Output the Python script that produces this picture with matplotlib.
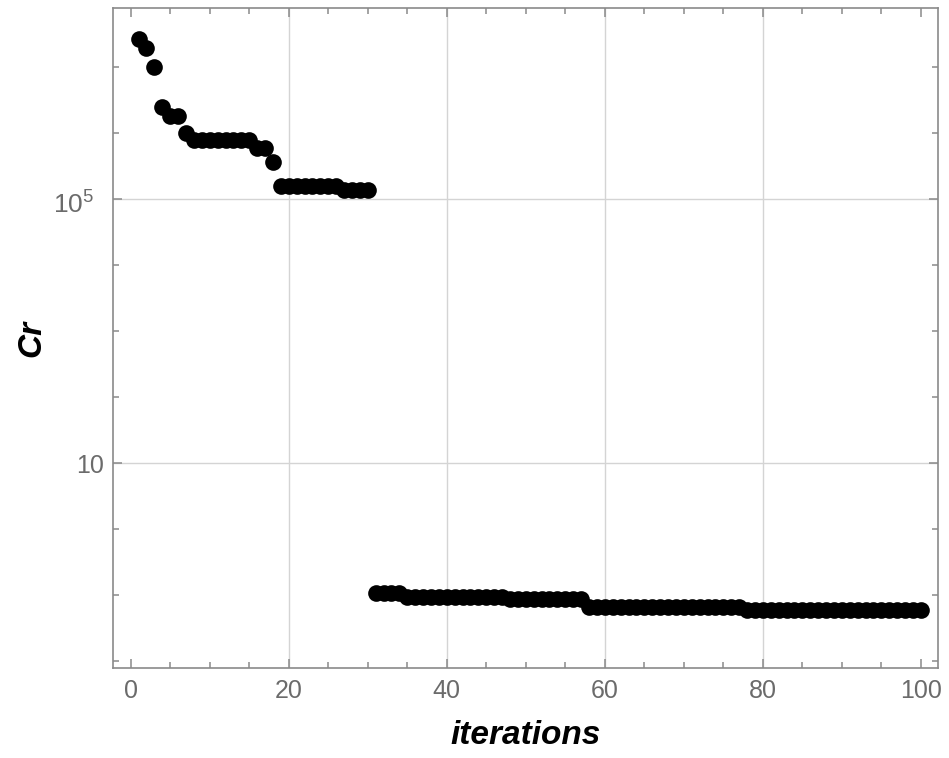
import matplotlib
matplotlib.use("Agg")
import matplotlib.pyplot as plt
from matplotlib.ticker import FixedLocator, NullFormatter
from matplotlib.transforms import ScaledTranslation

plt.rcParams['font.family'] = ['Liberation Sans', 'DejaVu Sans']
plt.rcParams['mathtext.fontset'] = 'custom'
plt.rcParams['mathtext.rm'] = 'Liberation Sans'

# iteration number and Cr value
iterations = list(range(1, 101))
cr = [
    2.67e7, 2.0e7, 1.03e7, 2.49e6, 1.84e6, 1.84e6, 1.03e6,
    7.9e5, 7.9e5, 7.9e5, 7.9e5, 7.9e5, 7.9e5, 7.9e5, 7.9e5,
    5.96e5, 5.96e5, 3.74e5,
    1.62e5, 1.62e5, 1.62e5, 1.62e5, 1.62e5, 1.62e5, 1.62e5, 1.62e5,
    1.39e5, 1.39e5, 1.39e5, 1.39e5,
    0.108, 0.108, 0.108, 0.106,
    0.093, 0.093, 0.093, 0.093, 0.093, 0.093, 0.093, 0.093, 0.093, 0.093,
    0.093, 0.093, 0.093,
    0.087, 0.087, 0.087, 0.087, 0.087, 0.087, 0.087, 0.087, 0.087, 0.087,
    0.066, 0.066, 0.066, 0.066, 0.066, 0.066, 0.066, 0.066, 0.066, 0.066,
    0.066, 0.066, 0.066, 0.066, 0.066, 0.066, 0.066, 0.066, 0.066, 0.066,
    0.0597, 0.0597, 0.0597, 0.0597, 0.0597, 0.0597, 0.0597, 0.0597,
    0.0597, 0.0597, 0.0597, 0.0597, 0.0597, 0.0597, 0.0597, 0.0597,
    0.0597, 0.0597, 0.0597, 0.0597, 0.0597, 0.0597, 0.0597,
]

x_major = [0, 20, 40, 60, 80, 100]
x_minor = [v for v in range(0, 101, 5) if v % 20]
y_major = [10, 1e5]
y_major_labels = ['10', r'$\mathregular{10^5}$']
y_minor = [1e-2, 1e-1, 1, 1e2, 1e3, 1e4, 1e6, 1e7]

frame_col = '#8a8a8a'
label_col = '#6b6b6b'
grid_col = '#d4d4d4'

fig = plt.figure(figsize=(9.49, 7.58), dpi=100)
ax = fig.add_axes([0.1194, 0.1183, 0.8693, 0.8707])

ax.set_yscale('log')
ax.set_xlim(-2.2, 102.2)
ax.set_ylim(10 ** -2.11, 10 ** 7.897)

# light grid only at the inner major ticks
for gx in x_major[1:-1]:
    ax.axvline(gx, color=grid_col, lw=1.0, zorder=0)
for gy in y_major:
    ax.axhline(gy, color=grid_col, lw=1.0, zorder=0)

ax.plot(iterations, cr, 'o', color='black', ms=12, mew=0, zorder=3,
        clip_on=False)

ax.xaxis.set_major_locator(FixedLocator(x_major))
ax.xaxis.set_minor_locator(FixedLocator(x_minor))
ax.xaxis.set_minor_formatter(NullFormatter())
ax.set_xticklabels([str(v) for v in x_major])

ax.yaxis.set_major_locator(FixedLocator(y_major))
ax.yaxis.set_minor_locator(FixedLocator(y_minor))
ax.yaxis.set_minor_formatter(NullFormatter())
ax.set_yticklabels(y_major_labels)

ax.tick_params(which='both', direction='in', top=True, right=True,
               color=frame_col, width=1.1, labelcolor=label_col,
               labelsize=18)
ax.tick_params(which='major', length=6.5)
ax.tick_params(which='minor', length=4.2)
ax.tick_params(axis='x', which='major', pad=8)
ax.tick_params(axis='y', which='major', pad=7)

# the 10^5 label sits a bit further left and lower, as in the original
lbl = ax.get_yticklabels()[1]
lbl.set_fontsize(19)
lbl.set_transform(lbl.get_transform()
                  + ScaledTranslation(-0.09, -0.03, fig.dpi_scale_trans))

for sp in ax.spines.values():
    sp.set_color(frame_col)
    sp.set_linewidth(1.2)

ax.set_xlabel('iterations', fontsize=24, fontweight='bold', style='italic',
              color='black', labelpad=12)
ax.set_ylabel('Cr', fontsize=24, fontweight='bold', style='italic',
              color='black', labelpad=4)

fig.savefig('out.png', dpi=100)
